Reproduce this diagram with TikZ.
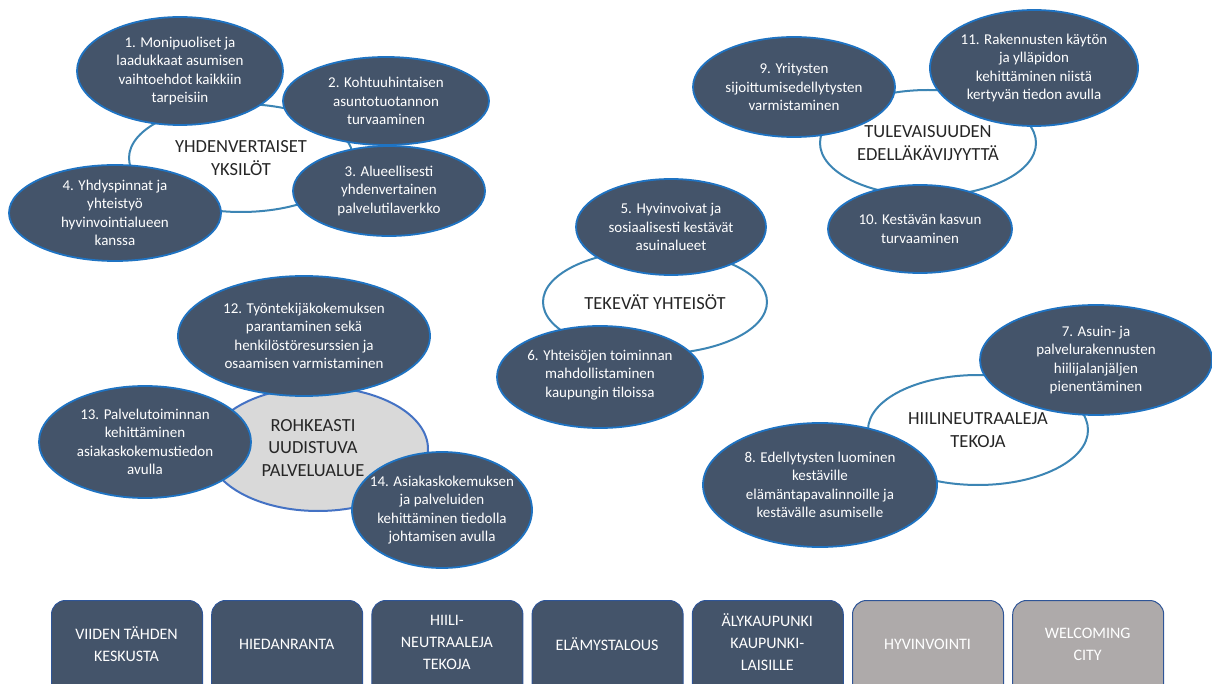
\documentclass[tikz,border=0pt]{standalone}
\usepackage{fontspec}
\setmainfont{Carlito}
\usetikzlibrary{shapes.geometric}
\definecolor{darkfill}{HTML}{44546A}
\definecolor{darkedge}{HTML}{1F73C2}
\definecolor{ringedge}{HTML}{3C85B4}
\definecolor{greyfill}{HTML}{D9D9D9}
\definecolor{greyedge}{HTML}{4472C4}
\definecolor{boxedge}{HTML}{2F5597}
\definecolor{boxgrey}{HTML}{AEAAAA}
\definecolor{labelink}{HTML}{262626}
\tikzset{
  ring/.style={ellipse, draw=ringedge, line width=2pt, fill=white, inner sep=0pt},
  greyring/.style={ellipse, draw=greyedge, line width=2pt, fill=greyfill, inner sep=0pt},
  goal/.style={ellipse, draw=darkedge, line width=1.8pt, fill=darkfill, inner sep=0pt},
  goaltext/.style={text=white, align=center, inner sep=0pt, font=\fontsize{15}{18.4}\selectfont},
  ringtext/.style={text=labelink, align=center, inner sep=0pt, font=\fontsize{18.5}{22.5}\selectfont},
  tile/.style={rectangle, rounded corners=14pt, draw=boxedge, line width=1pt, fill=darkfill,
               minimum width=151pt, minimum height=110pt, anchor=north west, inner sep=0pt},
  greytile/.style={tile, fill=boxgrey},
  tiletext/.style={text=white, align=center, inner sep=0pt, font=\fontsize{16}{22}\selectfont}
}
\begin{document}
\begin{tikzpicture}[x=1pt,y=-1pt]
\useasboundingbox (0,0) rectangle (1212,684);
\clip (0,0) rectangle (1212,684);

% ---------- cluster 1 ----------
\node[ring, minimum width=224pt, minimum height=108pt] (r1) at (241,158) {};
\node[goal, minimum width=206pt, minimum height=108pt] (g1) at (180,71) {};
\node[goal, minimum width=206pt, minimum height=88pt] (g2) at (386,101) {};
\node[goal, minimum width=192pt, minimum height=90pt] (g3) at (389,191) {};
\node[goal, minimum width=212pt, minimum height=96pt] (g4) at (115,213) {};

% ---------- cluster 2 ----------
\node[ring, minimum width=216pt, minimum height=106pt] (r2) at (928,143) {};
\node[goal, minimum width=202pt, minimum height=100pt] (g9) at (794,87) {};
\node[goal, minimum width=208pt, minimum height=116pt] (g11) at (1034,68) {};
\node[goal, minimum width=184pt, minimum height=88pt] (g10) at (920,229) {};

% ---------- cluster 3 ----------
\node[ring, minimum width=224pt, minimum height=104pt] (r3) at (655,302) {};
\node[goal, minimum width=190pt, minimum height=96pt] (g5) at (671,227) {};
\node[goal, minimum width=206pt, minimum height=102pt] (g6) at (600,377) {};

% ---------- cluster 4 ----------
\node[greyring, minimum width=220pt, minimum height=124pt] (r4) at (318,449) {};
\node[goal, minimum width=252pt, minimum height=120pt] (g12) at (304,336) {};
\node[goal, minimum width=212pt, minimum height=112pt] (g13) at (145,442) {};
\node[goal, minimum width=180pt, minimum height=116pt] (g14) at (442,510) {};

% ---------- cluster 5 ----------
\node[ring, minimum width=220pt, minimum height=110pt] (r5) at (978,430) {};
\node[goal, minimum width=232pt, minimum height=110pt] (g7) at (1096,360) {};
\node[goal, minimum width=234pt, minimum height=124pt] (g8) at (820,485) {};

% ---------- texts ----------
\node[ringtext] (r1t) at (r1) {YHDENVERTAISET\\YKSILÖT};
\node[ringtext] (r2t) at (r2) {TULEVAISUUDEN\\EDELLÄKÄVIJYYTTÄ};
\node[ringtext] (r3t) at (r3) {TEKEVÄT YHTEISÖT};
\node[ringtext] (r4t) at (313,448) {ROHKEASTI\\UUDISTUVA\\PALVELUALUE};
\node[ringtext] (r5t) at (r5) {HIILINEUTRAALEJA\\TEKOJA};

\node[goaltext] at (g1) {1. Monipuoliset ja\\laadukkaat asumisen\\vaihtoehdot kaikkiin\\tarpeisiin};
\node[goaltext] at (g2) {2. Kohtuuhintaisen\\asuntotuotannon\\turvaaminen};
\node[goaltext] at (g3) {3. Alueellisesti\\yhdenvertainen\\palvelutilaverkko};
\node[goaltext] at (g4) {4. Yhdyspinnat ja\\yhteistyö\\hyvinvointialueen\\kanssa};
\node[goaltext] at (g5) {5. Hyvinvoivat ja\\sosiaalisesti kestävät\\asuinalueet};
\node[goaltext] at ([yshift=2pt]g6) {6. Yhteisöjen toiminnan\\mahdollistaminen\\kaupungin tiloissa};
\node[goaltext] at (g7) {7. Asuin- ja\\palvelurakennusten\\hiilijalanjäljen\\pienentäminen};
\node[goaltext] at (g8) {8. Edellytysten luominen\\kestäville\\elämäntapavalinnoille ja\\kestävälle asumiselle};
\node[goaltext] at (g9) {9. Yritysten\\sijoittumisedellytysten\\varmistaminen};
\node[goaltext] at (g10) {10. Kestävän kasvun\\turvaaminen};
\node[goaltext] at (g11) {11. Rakennusten käytön\\ja ylläpidon\\kehittäminen niistä\\kertyvän tiedon avulla};
\node[goaltext] at (g12) {12. Työntekijäkokemuksen\\parantaminen sekä\\henkilöstöresurssien ja\\osaamisen varmistaminen};
\node[goaltext] at (g13) {13. Palvelutoiminnan\\kehittäminen\\asiakaskokemustiedon\\avulla};
\node[goaltext] at (g14) {14. Asiakaskokemuksen\\ja palveluiden\\kehittäminen tiedolla\\johtamisen avulla};

% ---------- bottom tiles ----------
\node[tile] (b1) at (51,600) {};
\node[tile] (b2) at (211.2,600) {};
\node[tile] (b3) at (371.4,600) {};
\node[tile] (b4) at (531.6,600) {};
\node[tile] (b5) at (691.8,600) {};
\node[greytile] (b6) at (852,600) {};
\node[greytile] (b7) at (1012.2,600) {};

\node[tiletext] at (126.5,644) {VIIDEN TÄHDEN\\KESKUSTA};
\node[tiletext] at (286.7,644) {HIEDANRANTA};
\node[tiletext] at (446.9,642) {HIILI-\\NEUTRAALEJA\\TEKOJA};
\node[tiletext] at (607.1,644) {ELÄMYSTALOUS};
\node[tiletext] at (767.3,642) {ÄLYKAUPUNKI\\KAUPUNKI-\\LAISILLE};
\node[tiletext] at (927.5,644) {HYVINVOINTI};
\node[tiletext] at (1087.7,644) {WELCOMING\\CITY};
\end{tikzpicture}
\end{document}
